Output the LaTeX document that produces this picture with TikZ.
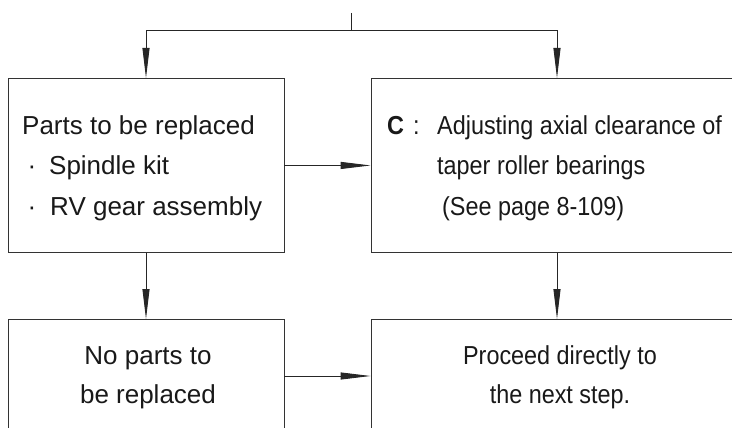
\documentclass[tikz,border=0pt]{standalone}
\usepackage{fontspec}
\setmainfont{Liberation Sans}
\usetikzlibrary{arrows.meta}
\newcommand{\narrowtxt}[1]{\scalebox{0.9}[1]{#1}}
\begin{document}
\begin{tikzpicture}[x=1pt,y=-1pt,
  box/.style={draw=black!80, line width=0.9pt, minimum width=#1, minimum height=174pt, inner sep=0pt, anchor=north},
  lbl/.style={font=\fontsize{26}{30}\selectfont, text=black!90, anchor=base west, inner sep=0pt},
  ctr/.style={font=\fontsize{26}{30}\selectfont, text=black!90, anchor=base, inner sep=0pt},
  wire/.style={draw=black!85, line width=0.9pt},
  flow/.style={wire, -{Triangle[length=30pt,width=7pt]}},
]
\useasboundingbox (0,0) rectangle (732,428);
\clip (0,0) rectangle (732,428);
\fill[white] (0,0) rectangle (732,428);
% boxes
\node[box=276pt] (tl) at (146,78) {};
\node[box=372pt] (tr) at (557,78) {};
\node[box=276pt] (bl) at (146,319) {};
\node[box=372pt] (br) at (557,319) {};
% top split
\coordinate (src) at (351,13);
\coordinate (split) at (351,30);
\draw[wire] (src) -- (split);
\draw[flow] (split) -| (tl.north);
\draw[flow] (split) -| (tr.north);
% horizontal arrows
\draw[flow] (tl.east) -- (tl.east -| tr.west);
\path (bl.north east) ++(0,57) coordinate (ba);
\draw[flow] (ba) -- (ba -| br.west);
% vertical arrows
\draw[flow] (tl.south) -- (bl.north);
\draw[flow] (tr.south) -- (br.north);
% texts top-left
\node[lbl] (t1) at (22,135) {Parts to be replaced};
\node[lbl] (t2) at (27.5,175) {\makebox[21.5pt][l]{·}Spindle kit};
\node[lbl] (t3) at (27.5,215) {\makebox[22.5pt][l]{·}RV gear assembly};
% texts top-right
\node[lbl] (c1) at (387,135) {\narrowtxt{\textbf{C}}};
\node[lbl] (c2) at (413,135) {\narrowtxt{:}};
\node[lbl] (r1) at (437,135) {\narrowtxt{Adjusting axial clearance of}};
\node[lbl] (r2) at (437,175) {\narrowtxt{taper roller bearings}};
\node[lbl] (r3) at (442,215) {\narrowtxt{(See page 8-109)}};
% bottom texts
\node[ctr] (b1) at (148,364) {No parts to};
\node[ctr] (b2) at (148,403) {be replaced};
\node[ctr] (b3) at (560,364) {\narrowtxt{Proceed directly to}};
\node[ctr] (b4) at (560,403) {\narrowtxt{the next step.}};
\end{tikzpicture}
\end{document}
